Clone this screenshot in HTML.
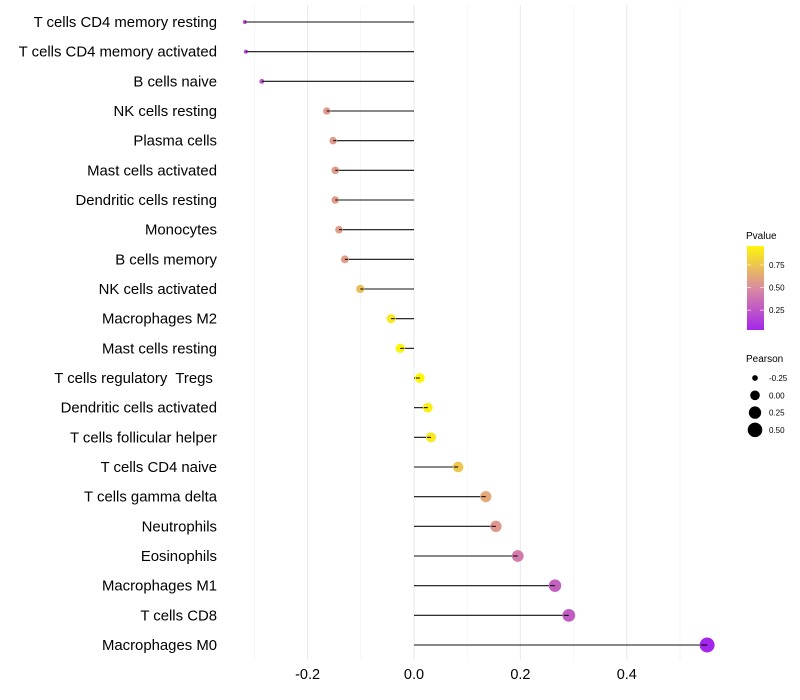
<!DOCTYPE html>
<html><head><meta charset="utf-8"><style>
body{margin:0;background:#fff;}
svg{display:block;font-family:"Liberation Sans",Arial,sans-serif;}
text{white-space:pre;}
</style></head><body>
<svg id="chart" width="800" height="700"></svg>
<script>
const categories=["T cells CD4 memory resting","T cells CD4 memory activated","B cells naive","NK cells resting","Plasma cells","Mast cells activated","Dendritic cells resting","Monocytes","B cells memory","NK cells activated","Macrophages M2","Mast cells resting","T cells regulatory  Tregs ","Dendritic cells activated","T cells follicular helper","T cells CD4 naive","T cells gamma delta","Neutrophils","Eosinophils","Macrophages M1","T cells CD8","Macrophages M0"];
const pearson=[-0.318,-0.316,-0.286,-0.164,-0.152,-0.148,-0.148,-0.141,-0.13,-0.101,-0.043,-0.026,0.011,0.026,0.032,0.083,0.135,0.154,0.195,0.265,0.291,0.551];
const pvalue=[0.2,0.2,0.25,0.56,0.56,0.57,0.57,0.58,0.58,0.72,0.9,0.95,0.97,0.93,0.9,0.75,0.62,0.55,0.42,0.3,0.28,0.03];
const xTicks=[-0.2,0,0.2,0.4];
const xTickLabels=["-0.2","0.0","0.2","0.4"];
const xMinor=[-0.3,-0.1,0.1,0.3,0.5];
const legendP=[0.25,0.5,0.75];
const legendPearson=[-0.25,0,0.25,0.5];
const legendPearsonLabels=["-0.25","0.00","0.25","0.50"];

const NS="http://www.w3.org/2000/svg";
const svg=document.getElementById('chart');
const x=v=>414+v*532;
const y=i=>22+i*(623/21);
const r=v=>Math.sqrt(Math.max(1,23.1+59.8*v));
function col(p){
  const s=[[0,[160,32,240]],[0.5,[219,140,159]],[1,[255,255,0]]];
  p=Math.max(0,Math.min(1,p));
  let a=s[0],b=s[1]; if(p>0.5){a=s[1];b=s[2];}
  const t=(p-a[0])/(b[0]-a[0]);
  const c=a[1].map((v,k)=>Math.round(v+(b[1][k]-v)*t));
  return `rgb(${c.join(',')})`;
}
function mk(tag,attrs,parent){const e=document.createElementNS(NS,tag);for(const k in attrs)e.setAttribute(k,attrs[k]);(parent||svg).appendChild(e);return e;}

xMinor.forEach(v=>{
  const l=mk('line',{x1:x(v),x2:x(v),y1:5,y2:660,stroke:'#f0f0f0','stroke-width':0.6});
  
  
});
xTicks.forEach((v,i)=>{
  const l=mk('line',{x1:x(v),x2:x(v),y1:5,y2:660,stroke:'#ebebeb','stroke-width':1.1});
  
  
  const t=mk('text',{x:x(v),y:679,'text-anchor':'middle','font-size':14.5,fill:'#000'});
  t.textContent=xTickLabels[i];
  
  
});
categories.forEach((c,i)=>{
  const t=mk('text',{x:217,y:y(i)+5,'text-anchor':'end','font-size':14.9,fill:'#000'});
  t.textContent=c;
  
  
  const l=mk('line',{x1:x(0),x2:x(pearson[i]),y1:y(i),y2:y(i),stroke:'#111','stroke-width':1.1});
  
  
  const p=mk('circle',{cx:x(pearson[i]),cy:y(i),r:r(pearson[i]),fill:col(pvalue[i])});
  
  
  const l2=mk('line',{x1:x(pearson[i])+(pearson[i]<0?r(pearson[i])*0.8:-r(pearson[i])*0.8),x2:x(pearson[i]),y1:y(i),y2:y(i),stroke:'#000','stroke-width':1});
  
  
});

// color legend
const defs=mk('defs',{});
const g=mk('linearGradient',{id:'pg',x1:0,y1:1,x2:0,y2:0},defs);
[0,0.25,0.5,0.75,1].forEach(s=>mk('stop',{offset:s,'stop-color':col(0.03+s*0.93)},g));
const lt=mk('text',{x:746,y:239,'font-size':10,fill:'#000'});lt.textContent='Pvalue';


const bar=mk('rect',{x:747,y:246,width:17,height:84,fill:'url(#pg)'});


const py=p=>330-(p-0.03)/0.93*84;
legendP.forEach(p=>{
  mk('line',{x1:747,x2:751,y1:py(p),y2:py(p),stroke:'#fff','stroke-width':0.6});
  mk('line',{x1:760,x2:764,y1:py(p),y2:py(p),stroke:'#fff','stroke-width':0.6});
  const t=mk('text',{x:769,y:py(p)+3,'font-size':8,fill:'#000'});t.textContent=p.toFixed(2);
  
  
});
const st=mk('text',{x:746,y:362,'font-size':10,fill:'#000'});st.textContent='Pearson';


legendPearson.forEach((v,i)=>{
  const cy=378+i*17.3;
  const c=mk('circle',{cx:755,cy:cy,r:r(v),fill:'#000'});
  
  
  const t=mk('text',{x:769,y:cy+3,'font-size':8,fill:'#000'});t.textContent=legendPearsonLabels[i];
  
  
});
</script>
</body></html>
